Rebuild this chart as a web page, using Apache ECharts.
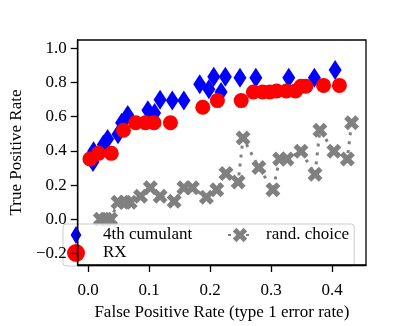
<!DOCTYPE html>
<html>
<head>
<meta charset="utf-8">
<script src="https://cdn.jsdelivr.net/npm/echarts@6/dist/echarts.min.js"></script>
<style>
  html, body { margin: 0; padding: 0; background: #fff; }
  #chart { width: 407px; height: 326px; }
</style>
</head>
<body>
<div id="chart"></div>
<script>
// tick positions
const xTicks = [0, 0.1, 0.2, 0.3, 0.4]
const yTicks = [-0.2, 0, 0.2, 0.4, 0.6, 0.8, 1.0]

// 4th cumulant (blue diamonds)
const cumX = [0.008, 0.009, 0.025, 0.032, 0.049, 0.055, 0.065, 0.098, 0.109, 0.118, 0.138, 0.157, 0.183, 0.198, 0.206, 0.218, 0.225, 0.249, 0.275, 0.329, 0.371, 0.405]
const cumY = [0.335, 0.397, 0.436, 0.469, 0.497, 0.564, 0.609, 0.637, 0.62, 0.698, 0.693, 0.693, 0.788, 0.76, 0.832, 0.743, 0.832, 0.827, 0.827, 0.827, 0.827, 0.872]

// RX (red circles)
const rxX = [0.003, 0.017, 0.038, 0.058, 0.078, 0.094, 0.108, 0.135, 0.188, 0.212, 0.251, 0.271, 0.286, 0.298, 0.309, 0.325, 0.34, 0.349, 0.357, 0.386, 0.412]
const rxY = [0.352, 0.385, 0.385, 0.52, 0.564, 0.564, 0.564, 0.564, 0.654, 0.693, 0.693, 0.743, 0.743, 0.743, 0.749, 0.749, 0.749, 0.777, 0.777, 0.782, 0.782]

// rand. choice (grey crosses, dotted)
const randX = [0.02, 0.029, 0.037, 0.049, 0.06, 0.069, 0.086, 0.102, 0.118, 0.141, 0.157, 0.171, 0.194, 0.211, 0.226, 0.246, 0.254, 0.28, 0.303, 0.314, 0.326, 0.349, 0.372, 0.38, 0.403, 0.425, 0.432]
const randY = [0, 0, 0, 0.1, 0.1, 0.1, 0.134, 0.184, 0.134, 0.106, 0.184, 0.184, 0.128, 0.173, 0.268, 0.218, 0.475, 0.302, 0.173, 0.352, 0.352, 0.397, 0.263, 0.52, 0.397, 0.352, 0.564]

const zip = (xs, ys) => xs.map((x, i) => [x, ys[i]])

const FONT = 'Liberation Serif'
const diamond = 'path://M0,-10L6,0L0,10L-6,0Z'
const cross = 'path://M2,-4L4,-2L2,0L4,2L2,4L0,2L-2,4L-4,2L-2,0L-4,-2L-2,-4L0,-2Z'

const fmt = v => v.toFixed(1).replace('-', '\u2212')

const chart = echarts.init(document.getElementById('chart'), null, { renderer: 'canvas' })

const legendText = { fontFamily: FONT, fontSize: 17, color: '#000', lineHeight: 18 }

const option = {
  animation: false,
  backgroundColor: '#fff',
  grid: {
    left: 60,
    right: 41,
    top: 40,
    bottom: 52,
    z: 150,
    show: true,
    borderColor: '#000',
    borderWidth: 1.3,
    backgroundColor: 'transparent'
  },
  xAxis: {
    type: 'value',
    z: 150,
    min: -0.017,
    max: 0.4556,
    name: 'False Positive Rate (type 1 error rate)',
    nameLocation: 'middle',
    nameGap: 39,
    nameTextStyle: { fontFamily: FONT, fontSize: 17, color: '#000' },
    axisLine: { show: true, onZero: false, lineStyle: { color: '#000', width: 1.3 } },
    axisTick: { show: true, inside: false, length: 7, customValues: xTicks, lineStyle: { color: '#000', width: 1.3 } },
    axisLabel: { customValues: xTicks, formatter: fmt, margin: 17, fontFamily: FONT, fontSize: 17, color: '#000' },
    splitLine: { show: false }
  },
  yAxis: {
    type: 'value',
    z: 150,
    min: -0.267,
    max: 1.047,
    name: 'True Positive Rate',
    nameLocation: 'middle',
    nameRotate: 90,
    nameGap: 45,
    nameTextStyle: { fontFamily: FONT, fontSize: 17, color: '#000' },
    axisLine: { show: true, onZero: false, lineStyle: { color: '#000', width: 1.3 } },
    axisTick: { show: true, inside: false, length: 7, customValues: yTicks, lineStyle: { color: '#000', width: 1.3 } },
    axisLabel: { customValues: yTicks, formatter: fmt, margin: 11, fontFamily: FONT, fontSize: 17, color: '#000' },
    splitLine: { show: false }
  },
  legend: [
    {
      // this one also carries the legend frame
      data: ['4th cumulant', 'RX'],
      orient: 'vertical',
      left: 63,
      top: 224,
      itemWidth: 24,
      itemHeight: 18,
      itemGap: 0,
      padding: [2, 162, 4, 4],
      backgroundColor: 'rgba(255,255,255,0.8)',
      borderColor: '#cccccc',
      borderWidth: 1,
      borderRadius: 3,
      z: 100,
      textStyle: Object.assign({ padding: [0, 0, 0, 10] }, legendText)
    },
    {
      data: ['rand. choice'],
      orient: 'vertical',
      left: 227,
      top: 226,
      itemWidth: 24,
      itemHeight: 18,
      padding: 0,
      z: 101,
      textStyle: Object.assign({ padding: [0, 0, 0, 9] }, legendText)
    }
  ],
  series: [
    {
      name: '4th cumulant',
      type: 'scatter',
      data: zip(cumX, cumY),
      symbol: diamond,
      symbolSize: [13, 20],
      itemStyle: { color: '#0000ff', opacity: 1 }
    },
    {
      name: 'RX',
      type: 'scatter',
      data: zip(rxX, rxY),
      symbol: 'circle',
      symbolSize: 15,
      itemStyle: { color: '#ff0000', opacity: 1 }
    },
    {
      name: 'rand. choice',
      type: 'line',
      data: zip(randX, randY),
      symbol: cross,
      symbolSize: 15,
      showSymbol: true,
      showAllSymbol: true,
      lineStyle: { color: '#808080', width: 3, type: [3, 6], cap: 'butt' },
      itemStyle: { color: '#808080', opacity: 1 }
    }
  ]
}

chart.setOption(option)
</script>
</body>
</html>
